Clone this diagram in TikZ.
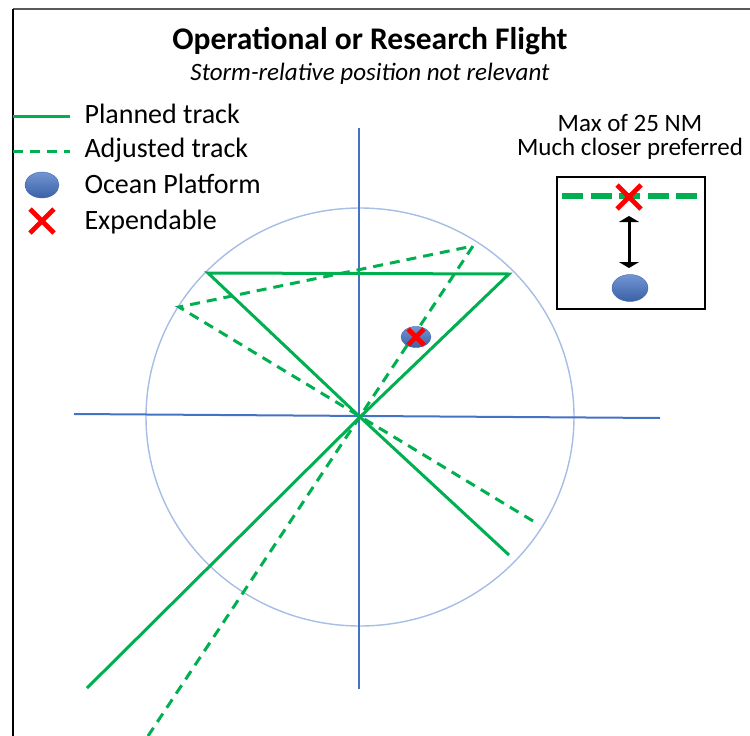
\documentclass[tikz,border=0pt]{standalone}
\usepackage{fontspec}
\setmainfont{Carlito}
\usepackage{xcolor}
\usetikzlibrary{arrows.meta,shapes.geometric}

\definecolor{trackgreen}{HTML}{00B050}
\definecolor{axisblue}{HTML}{4472C4}
\definecolor{ringblue}{HTML}{A6BDE6}
\definecolor{xred}{HTML}{FF0000}

\tikzset{
  track/.style={trackgreen, line width=3pt},
  adjtrack/.style={track, dash pattern=on 10pt off 7pt},
  axisline/.style={axisblue, line width=2pt},
  platform/.style={ellipse, inner sep=0pt, top color=axisblue!75!white,
    bottom color=axisblue!85!black, draw=axisblue!90!black, line width=0.4pt},
  legendtext/.style={anchor=base west, font=\fontsize{28}{33}\selectfont},
  notetext/.style={anchor=base, font=\fontsize{25}{30}\selectfont},
  pics/xmark/.style={code={
    \draw[xred, line width=4.8pt] (-#1,-#1) -- (#1,#1) (-#1,#1) -- (#1,-#1);}}
}

\begin{document}
\begin{tikzpicture}[x=1pt,y=-1pt]
  \useasboundingbox (0,0) rectangle (750,736);

  % Frame
  \coordinate (f0) at (13,9);
  \coordinate (f1) at (750,9);
  \coordinate (f2) at (13,736);
  \draw[line width=2pt, black!65] (f0) -- (f1);
  \draw[line width=2pt] (f0) -- (f2);

  % Title
  \node[anchor=base, font=\fontsize{31.5}{36}\selectfont\bfseries] (title) at (370,49)
    {Operational or Research Flight};
  \node[anchor=base, font=\fontsize{25}{30}\selectfont\itshape] (subtitle) at (370,80)
    {Storm-relative position not relevant};

  % Range ring and axes
  \coordinate (c) at (360,417);
  \coordinate (west) at (74,414);
  \coordinate (east) at (660,418);
  \coordinate (north) at (359,128);
  \coordinate (south) at (359,689);
  \draw[ringblue, line width=1.4pt] (c) ellipse [x radius=214pt, y radius=209pt];
  \draw[axisline] (west) -- (east);
  \draw[axisline] (north) -- (south);

  % Planned track
  \coordinate (p1) at (208,273);
  \coordinate (p2) at (509,274);
  \coordinate (p3) at (509,555);
  \coordinate (p4) at (87,688);
  \draw[track] (p3) -- (c) -- (p1) -- (p2) -- (c) -- (p4);

  % Adjusted track
  \coordinate (a1) at (179,307);
  \coordinate (a2) at (473,246);
  \coordinate (a3) at (533,521);
  \coordinate (a4) at (148,736);
  \draw[adjtrack] (a3) -- (a1) -- (a2) -- (a4);

  % Ocean platform with expendable
  \node[platform, minimum width=30pt, minimum height=21pt] (buoy) at (416,337) {};
  \pic at (buoy) {xmark=8};

  % Legend
  \coordinate (l1a) at (13,116);
  \coordinate (l1b) at (70,116);
  \coordinate (l2a) at (13,151);
  \coordinate (l2b) at (70,151);
  \draw[track] (l1a) -- (l1b);
  \draw[adjtrack] (l2a) -- (l2b);
  \node[platform, minimum width=34pt, minimum height=26pt] (lbuoy) at (42,185) {};
  \pic at (42,221) {xmark=12};
  \node[legendtext] (t1) at (81,123) {Planned track};
  \node[legendtext] (t2) at (81,157) {Adjusted track};
  \node[legendtext] (t3) at (81,193) {Ocean Platform};
  \node[legendtext] (t4) at (81,229) {Expendable};

  % Distance inset
  \node[notetext] (n1) at (630,131) {Max of 25 NM};
  \node[notetext] (n2) at (630,155) {Much closer preferred};
  \node[draw, line width=1.5pt, anchor=north west, minimum width=148pt,
    minimum height=132pt] (inset) at (556,176) {};
  \coordinate (d1) at (562,196);
  \coordinate (d2) at (697,196);
  \draw[trackgreen, line width=6.5pt, dash pattern=on 21pt off 7.5pt] (d1) -- (d2);
  \node[platform, minimum width=36pt, minimum height=27pt] (ibuoy) at (630,288) {};
  \coordinate (xm) at (629,197);
  \pic at (xm) {xmark=12};
  \coordinate (r1) at (629,216);
  \coordinate (r2) at (629,268);
  \draw[line width=3pt, {Triangle[width=20pt,length=6pt]}-{Triangle[width=20pt,length=6pt]}]
    (r1) -- (r2);

\end{tikzpicture}
\end{document}
